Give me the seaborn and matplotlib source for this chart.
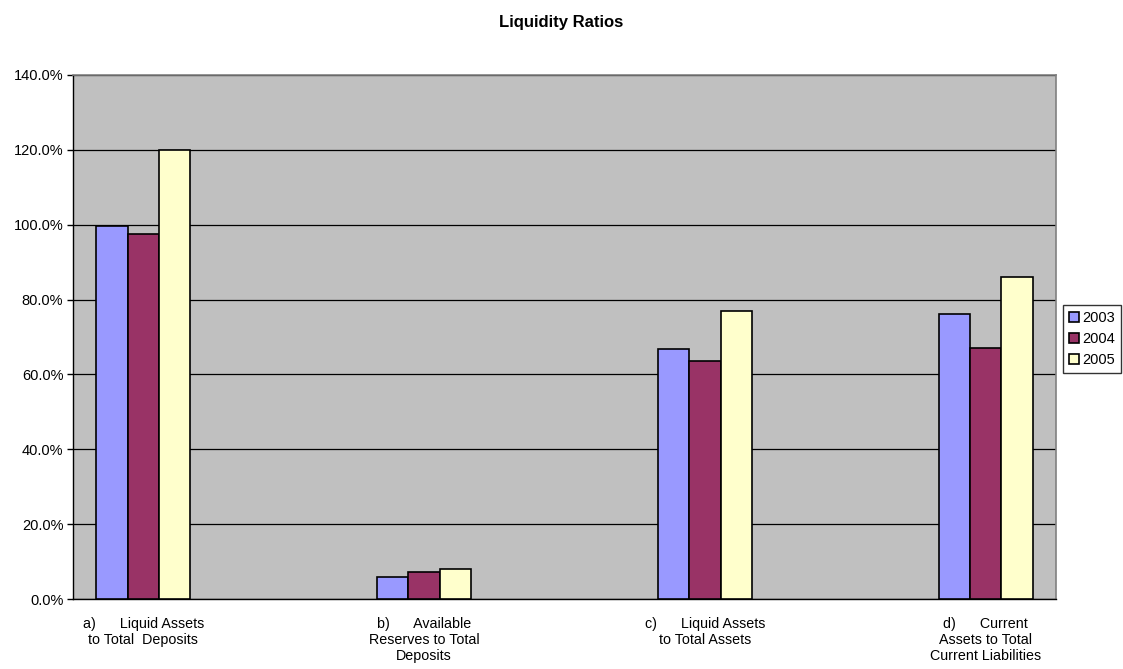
import pandas as pd
import numpy as np
import matplotlib.pyplot as plt
import seaborn as sns
from matplotlib.ticker import FuncFormatter, FixedLocator

# Data
categories = ["a)      Liquid Assets\nto Total  Deposits",
              "b)      Available\nReserves to Total\nDeposits",
              "c)      Liquid Assets\nto Total Assets",
              "d)      Current\nAssets to Total\nCurrent Liabilities"]
spacers = ["gap1", "gap2", "gap3"]
years = ["2003", "2004", "2005"]
vals_2003 = [99.6, 5.8, 66.9, 76.1]
vals_2004 = [97.5, 7.1, 63.6, 67.1]
vals_2005 = [120.0, 8.1, 77.0, 86.1]
colors = ["#9999FF", "#993366", "#FFFFCC"]

rows = []
for yr, vals in zip(years, [vals_2003, vals_2004, vals_2005]):
    for cat, v in zip(categories, vals):
        rows.append({"category": cat, "year": yr, "value": v})
df = pd.DataFrame(rows)

# Excel-style layout: empty slots between the real categories
order = [categories[0], spacers[0], categories[1], spacers[1],
         categories[2], spacers[2], categories[3]]

sns.set_style("white", {"text.color": "black", "xtick.color": "black",
                        "ytick.color": "black"})
plt.rcParams['font.family'] = ['Liberation Sans', 'DejaVu Sans']

fig = plt.figure(figsize=(11.23, 6.69), dpi=100)
ax = fig.add_axes([0.065, 0.1046, 0.8753, 0.7833])
ax.set_facecolor("#C0C0C0")

sns.barplot(data=df, x="category", y="value", hue="year", order=order,
            hue_order=years, palette=colors, width=0.67, saturation=1,
            edgecolor="black", linewidth=1.2, ax=ax, zorder=3, legend=True)

ax.set_xlim(-0.5, len(order) - 0.5)
ax.set_ylim(0, 140)
ax.set_yticks(np.arange(0, 141, 20))
ax.yaxis.set_major_formatter(FuncFormatter(lambda v, p: f"{v:.1f}%"))
ax.grid(axis="y", color="black", linewidth=0.9, zorder=1)
ax.set_axisbelow(True)

# ticks between categories, labels centred under the filled slots
ax.xaxis.set_major_locator(FixedLocator(np.arange(-0.5, len(order), 1.0)))
ax.xaxis.set_major_formatter(FuncFormatter(lambda v, p: ""))
ax.set_xticks([0, 2, 4, 6], minor=True)
ax.set_xticklabels(categories, minor=True, fontsize=10.3, linespacing=1.2,
                   va="top", ha="center")
ax.tick_params(axis="x", which="major", direction="out", length=5, width=1, color="black")
ax.tick_params(axis="x", which="minor", length=0, pad=13)
ax.tick_params(axis="y", direction="out", length=4, width=1, color="black",
               labelsize=10.5, left=True, pad=3)

ax.set_xlabel("")
ax.set_ylabel("")

for s in ["left", "bottom"]:
    ax.spines[s].set_color("black")
    ax.spines[s].set_linewidth(1)
for s in ["top", "right"]:
    ax.spines[s].set_color("#808080")
    ax.spines[s].set_linewidth(1.2)

fig.suptitle("Liquidity Ratios", y=0.978, fontsize=12, fontweight="bold")

handles, labels = ax.get_legend_handles_labels()
ax.legend(handles, labels, loc="upper left",
          bbox_to_anchor=(1063 / 1123, 1 - 305 / 669),
          bbox_transform=fig.transFigure, frameon=True, fancybox=False,
          edgecolor="black", fontsize=10.5, handlelength=0.7, handleheight=0.7,
          handletextpad=0.25, labelspacing=0.5, borderpad=0.4, borderaxespad=0)
leg = ax.get_legend()
leg.get_frame().set_linewidth(1)

fig.savefig("out.png", dpi=100)
